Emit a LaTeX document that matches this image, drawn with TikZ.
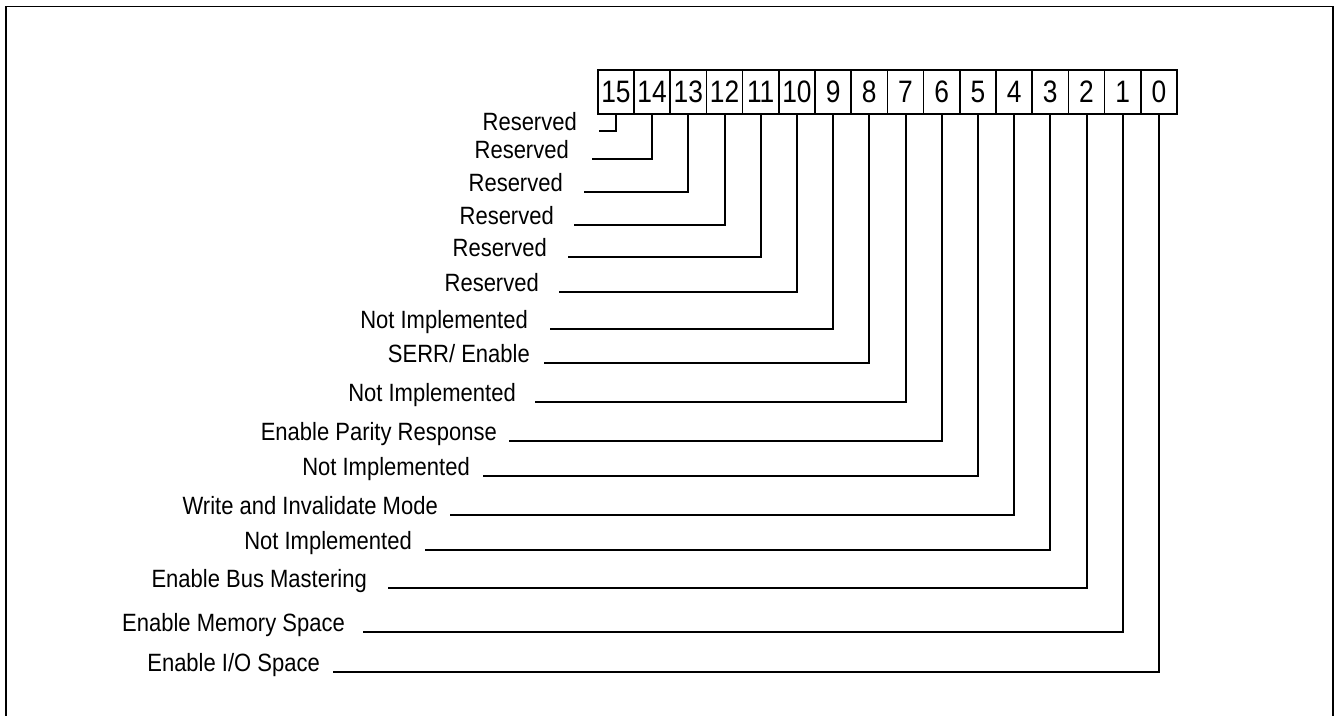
\documentclass[tikz,border=0pt]{standalone}
\usepackage{fontspec}
\setmainfont{Liberation Sans}
\newfontfamily\narrowfont[FakeStretch=0.88]{Liberation Sans}
\newfontfamily\digitfont[FakeStretch=0.85]{Liberation Sans}
\begin{document}
\begin{tikzpicture}[x=1pt,y=-1pt,
  cell/.style={draw, line width=1.6pt, minimum width=36.2pt, minimum height=44pt,
    inner sep=0pt, anchor=north west, font=\digitfont\fontsize{31}{33}\selectfont},
  lbl/.style={anchor=base east, inner sep=0pt, font=\narrowfont\fontsize{25}{28}\selectfont},
  leader/.style={line width=2pt},
  frame/.style={line width=1.2pt}]
\useasboundingbox (0,0) rectangle (1338,715);
% outer frame (bottom edge lies below the visible area)
\draw[frame] (6,730) -- (6,6.5) -- (1333,6.5) -- (1333,730);
% register cells
\foreach \b in {15,...,0}{
  \pgfmathsetmacro{\cx}{597+(15-\b)*36.2}
  \node[cell] (c\b) at (\cx,69) {\b};
}
% labels and leaders: bit / line start x / line y / text right x / text
\foreach \b/\xs/\ly/\tx/\txt in {
  15/599/131/577/{Reserved},
  14/592/159/569/{Reserved},
  13/584/192/563/{Reserved},
  12/574/225/554/{Reserved},
  11/568/257/547/{Reserved},
  10/559/292/539/{Reserved},
  9/550/329/528/{Not Implemented},
  8/544/363/530/{SERR/ Enable},
  7/535/402/516/{Not Implemented},
  6/509/441/497/{Enable Parity Response},
  5/483/476/470/{Not Implemented},
  4/450/515/438/{Write and Invalidate Mode},
  3/425/550/412/{Not Implemented},
  2/388/588/367/{Enable Bus Mastering},
  1/363/632/345/{Enable Memory Space},
  0/333/672/320/{Enable I/O Space}}{
  \coordinate (e\b) at (\xs,\ly);
  \node[lbl] (l\b) at (\tx,\ly-1) {\txt};
  \draw[leader] (c\b.south) |- (e\b);
}
\end{tikzpicture}
\end{document}
